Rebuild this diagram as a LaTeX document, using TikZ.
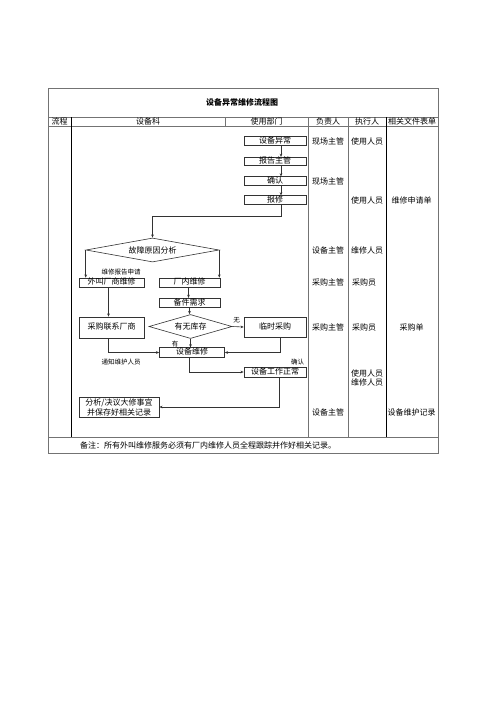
\documentclass[tikz,border=0pt]{standalone}
\usepackage{fontspec}
\setmainfont{Noto Sans CJK SC}
\usetikzlibrary{shapes.geometric,arrows.meta}
\begin{document}
\begin{tikzpicture}[x=1pt,y=-1pt,
  tline/.style={draw=black!55,line width=0.6pt},
  dline/.style={draw=black,line width=0.8pt},
  txt/.style={font=\fontsize{8}{9}\selectfont,inner sep=0pt},
  small/.style={font=\fontsize{6.5}{7}\selectfont,inner sep=0pt},
  box/.style={draw=black!80,line width=0.6pt,font=\fontsize{8}{9}\selectfont,inner sep=0pt,text height=6.2pt,text depth=1.3pt},
  dia/.style={draw=black!80,line width=0.6pt,diamond,font=\fontsize{8}{9}\selectfont,inner sep=0pt},
  arr/.style={draw=black!80,line width=0.6pt,-{Stealth[length=3.2pt,width=2.6pt]}}
]
\useasboundingbox (0,0) rectangle (496,702);
\fill[white] (0,0) rectangle (496,702);
% table
\draw[tline] (48,88) rectangle (438,453);
\draw[tline] (48,117) -- (438,117);
\draw[tline] (48,126) -- (438,126);
\draw[tline] (48,437) -- (438,437);
\draw[dline] (71,117) -- (71,437);
\draw[tline] (225,117) -- (225,126);
\draw[tline] (308,117) -- (308,437);
\draw[tline] (348,117) -- (348,437);
\draw[dline] (386,117) -- (386,437);
% title and header
\node[txt,font=\fontsize{8}{9}\selectfont\bfseries] (title) at (242,102) {设备异常维修流程图};
\node[txt] (h1) at (59.5,121.5) {流程};
\node[txt] (h2) at (148,121.5) {设备科};
\node[txt] (h3) at (266.5,121.5) {使用部门};
\node[txt] (h4) at (328,121.5) {负责人};
\node[txt] (h5) at (367,121.5) {执行人};
\node[txt] (h6) at (412,121.5) {相关文件表单};
% flow boxes
\node[box,minimum width=62,minimum height=8.5] (n1) at (275,141) {设备异常};
\node[box,minimum width=62,minimum height=8.5] (n2) at (275,161.5) {报告主管};
\node[box,minimum width=62,minimum height=8.5] (n3) at (275,181) {确认};
\node[box,minimum width=62,minimum height=8.5] (n4) at (275,200) {报修};
\node[dia,minimum width=133,minimum height=24,shape aspect=5.5] (d1) at (152.5,250) {故障原因分析};
\node[box,minimum width=65,minimum height=9] (w1) at (111.5,282.5) {外叫厂商维修};
\node[box,minimum width=61,minimum height=9] (c1) at (189.5,282.5) {厂内维修};
\node[box,minimum width=61,minimum height=9.5] (c2) at (189.5,303) {备件需求};
\node[box,minimum width=65,minimum height=21] (w2) at (111.5,327.5) {采购联系厂商};
\node[dia,minimum width=83,minimum height=24,shape aspect=3.4] (d2) at (190.5,326.5) {有无库存};
\node[box,minimum width=62,minimum height=20] (t1) at (275,327) {临时采购};
\node[box,minimum width=65,minimum height=9.5] (r1) at (192,352.5) {设备维修};
\node[box,minimum width=62,minimum height=10] (s1) at (275,372) {设备工作正常};
\node[box,minimum width=80,minimum height=20,align=center,text height=,text depth=,font=\fontsize{8}{10}\selectfont] (a1) at (119,407) {分析/决议大修事宜\\并保存好相关记录};
% labels
\node[small] (l1) at (121,272) {维修报告申请};
\node[small] (l2) at (236.5,320.5) {无};
\node[small] (l3) at (175,344) {有};
\node[small] (l4) at (121,362.5) {通知维护人员};
\node[small] (l5) at (297.5,362) {确认};
% connectors
\draw[arr] ([xshift=6]n1.south) -- ([xshift=6]n2.north);
\draw[arr] ([xshift=6]n2.south) -- ([xshift=6]n3.north);
\draw[arr] ([xshift=6]n3.south) -- ([xshift=6]n4.north);
\coordinate (k1) at (281,216);
\draw[arr] ([xshift=6]n4.south) -- (k1) -| (d1.north);
\draw[arr] (d1.west) -- (d1.west |- w1.north);
\draw[arr] (d1.east) -- (d1.east |- c1.north);
\draw[arr] ([xshift=-1]c1.south) -- ([xshift=-1]c2.north);
\draw[arr] ([xshift=-3]w1.south) -- ([xshift=-3]w2.north);
\draw[arr] (c2.south) -- (c2.south |- d2.north);
\draw[arr] (d2.east) -- (t1.west);
\draw[arr] (d2.south) -- (d2.south |- r1.north);
\draw[arr] ([xshift=-3]w2.south) |- (r1.west);
\draw[arr] ([xshift=5]t1.south) |- (r1.east);
\draw[arr] ([xshift=-3]r1.south) |- (s1.west);
\draw[arr] ([xshift=4]s1.south) |- (a1.east);
% right columns
\node[txt] (p1) at (328,141) {现场主管};
\node[txt] (p2) at (328,181) {现场主管};
\node[txt] (p3) at (328,250) {设备主管};
\node[txt] (p4) at (328,282.5) {采购主管};
\node[txt] (p5) at (328,327) {采购主管};
\node[txt] (p6) at (328,412.5) {设备主管};
\node[txt] (e1) at (367,141) {使用人员};
\node[txt] (e2) at (367,200) {使用人员};
\node[txt] (e3) at (367,250) {维修人员};
\node[txt] (e4) at (364,282.5) {采购员};
\node[txt] (e5) at (364,327) {采购员};
\node[txt,align=left,font=\fontsize{8}{9}\selectfont] (e6) at (367,378) {使用人员\\维修人员};
\node[txt] (f1) at (411.5,200) {维修申请单};
\node[txt] (f2) at (411.5,327) {采购单};
\node[txt] (f3) at (411.5,412.5) {设备维护记录};
% note
\node[txt,anchor=west] (note) at (80,445.5) {备注：所有外叫维修服务必须有厂内维修人员全程跟踪并作好相关记录。};
\end{tikzpicture}
\end{document}
